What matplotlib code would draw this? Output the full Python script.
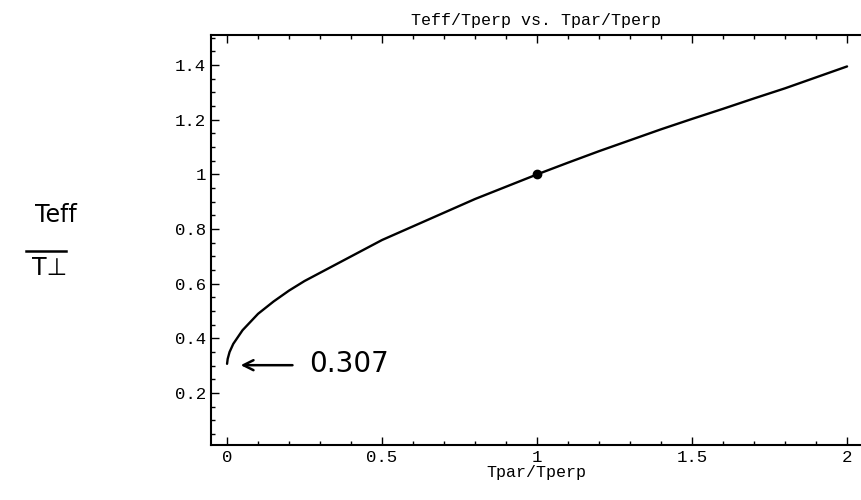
import matplotlib
matplotlib.use('Agg')
import matplotlib.pyplot as plt
from matplotlib.ticker import MultipleLocator, FixedLocator, FixedFormatter

# values
tpar_tperp = [0.0, 0.002, 0.008, 0.02, 0.035, 0.05, 0.075, 0.1, 0.15, 0.2, 0.25,
              0.3, 0.4, 0.5, 0.6, 0.7, 0.8, 0.9, 1.0, 1.1, 1.2, 1.3, 1.4, 1.5,
              1.6, 1.7, 1.8, 1.9, 2.0]
teff_tperp = [0.307, 0.325, 0.35, 0.38, 0.405, 0.43, 0.46, 0.49, 0.535, 0.575,
              0.61, 0.64, 0.70, 0.76, 0.81, 0.86, 0.91, 0.955, 1.0, 1.043, 1.085,
              1.125, 1.165, 1.203, 1.24, 1.278, 1.315, 1.355, 1.395]
marked_point = (1.0, 1.0)
start_value = 0.307

x_ticks = [0, 0.5, 1, 1.5, 2]
x_tick_labels = ['0', '0.5', '1', '1.5', '2']
y_ticks = [0.2, 0.4, 0.6, 0.8, 1.0, 1.2, 1.4]
y_tick_labels = ['0.2', '0.4', '0.6', '0.8', '1', '1.2', '1.4']

mono = 'Liberation Mono'

fig = plt.figure(figsize=(8.61, 5.0), dpi=100)
ax = fig.add_axes([0.245, 0.11, 0.755, 0.82])

ax.plot(tpar_tperp, teff_tperp, color='black', lw=1.7, solid_capstyle='round')
ax.plot([marked_point[0]], [marked_point[1]], 'o', color='black', ms=6)

# handwritten-style annotation of the starting value
ax.annotate('', xy=(0.035, start_value - 0.005), xytext=(0.22, start_value - 0.005),
            arrowprops=dict(arrowstyle='->', color='black', lw=1.8,
                            mutation_scale=18))
ax.text(0.265, start_value - 0.002, f'{start_value:.3f}',
        fontsize=20, family='DejaVu Sans', va='center', ha='left')

ax.set_xlim(-0.052, 2.045)
ax.set_ylim(0.01, 1.51)

ax.xaxis.set_major_locator(FixedLocator(x_ticks))
ax.xaxis.set_major_formatter(FixedFormatter(x_tick_labels))
ax.xaxis.set_minor_locator(MultipleLocator(0.1))
ax.yaxis.set_major_locator(FixedLocator(y_ticks))
ax.yaxis.set_major_formatter(FixedFormatter(y_tick_labels))
ax.yaxis.set_minor_locator(MultipleLocator(0.05))

ax.tick_params(which='both', direction='in', top=True, right=False, width=1.0)
ax.tick_params(which='major', length=6, labelsize=12.5)
ax.tick_params(which='minor', length=3)
for lab in ax.get_xticklabels() + ax.get_yticklabels():
    lab.set_family(mono)

for side in ['left', 'bottom', 'top']:
    ax.spines[side].set_linewidth(1.5)
ax.spines['right'].set_visible(False)

ax.set_title('Teff/Tperp vs. Tpar/Tperp', family=mono, fontsize=12, pad=7)
ax.set_xlabel('Tpar/Tperp', family=mono, fontsize=12, labelpad=0)

# handwritten y label drawn as a fraction
fig.text(0.065, 0.545, 'Teff', fontsize=17, family='DejaVu Sans', ha='center',
         va='bottom')
fig.add_artist(plt.Line2D([0.03, 0.077], [0.498, 0.498], color='black', lw=1.8,
                          transform=fig.transFigure))
fig.text(0.058, 0.488, 'T\u22a5', fontsize=17, family='DejaVu Sans', ha='center',
         va='top')

fig.savefig('out.png', dpi=100)
